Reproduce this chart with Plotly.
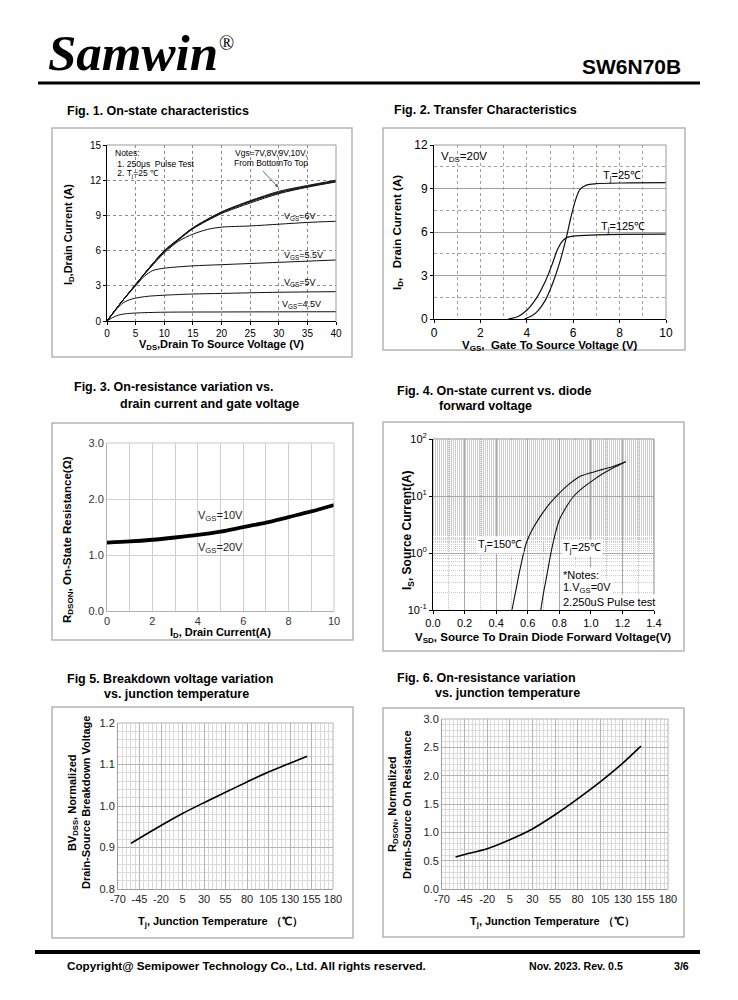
import plotly.graph_objects as go

W, H = 738, 1000
FONT = "Liberation Sans"

# ---------------- DATA ----------------
# Fig 1: On-state characteristics
f1_x_hi = [0, 1, 2.5, 5, 7.5, 10, 12.5, 15, 20, 25, 30, 35, 40]
f1_vgs10 = [0, 0.65, 1.6, 3.1, 4.6, 6.0, 7.0, 7.95, 9.3, 10.25, 11.05, 11.55, 12.0]
f1_vgs9 = [0, 0.65, 1.6, 3.1, 4.6, 5.98, 6.98, 7.92, 9.27, 10.2, 10.98, 11.5, 11.95]
f1_vgs8 = [0, 0.65, 1.6, 3.1, 4.6, 5.95, 6.95, 7.9, 9.22, 10.15, 10.92, 11.45, 11.9]
f1_vgs7 = [0, 0.65, 1.6, 3.1, 4.58, 5.9, 6.9, 7.85, 9.15, 10.05, 10.85, 11.4, 11.85]
f1_x6 = [0, 1, 2.5, 5, 7.5, 10, 12.5, 15, 17.5, 20, 25, 30, 35, 40]
f1_vgs6 = [0, 0.65, 1.6, 3.1, 4.5, 5.8, 6.8, 7.4, 7.8, 8.0, 8.1, 8.25, 8.4, 8.5]
f1_x55 = [0, 1, 2.5, 5, 6.5, 8, 10, 15, 20, 30, 40]
f1_vgs55 = [0, 0.65, 1.6, 3.0, 3.8, 4.3, 4.5, 4.7, 4.8, 5.0, 5.2]
f1_x5 = [0, 1, 2, 3, 4, 5, 7, 10, 15, 20, 30, 40]
f1_vgs5 = [0, 0.6, 1.2, 1.6, 1.82, 1.95, 2.1, 2.2, 2.3, 2.35, 2.45, 2.5]
f1_x45 = [0, 1, 2, 3, 5, 10, 20, 30, 40]
f1_vgs45 = [0, 0.3, 0.5, 0.6, 0.68, 0.75, 0.77, 0.78, 0.79]

# Fig 2: Transfer characteristics
f2_x25 = [3.9, 4.2, 4.5, 4.8, 5.1, 5.4, 5.7, 5.9, 6.1, 6.3, 6.6, 7, 8, 10]
f2_y25 = [0, 0.2, 0.6, 1.3, 2.4, 3.8, 5.6, 7.0, 8.2, 8.95, 9.25, 9.33, 9.38, 9.4]
f2_x125 = [3.2, 3.6, 4.0, 4.4, 4.8, 5.1, 5.3, 5.5, 5.7, 6.0, 7, 8, 10]
f2_y125 = [0, 0.15, 0.6, 1.4, 2.6, 3.8, 4.7, 5.3, 5.6, 5.72, 5.8, 5.84, 5.86]

# Fig 3: On-resistance vs drain current
f3_id = [0, 1, 2, 3, 4, 5, 6, 7, 8, 9, 10]
f3_r10 = [1.235, 1.255, 1.285, 1.325, 1.37, 1.43, 1.51, 1.59, 1.69, 1.79, 1.905]
f3_r20 = [1.21, 1.23, 1.26, 1.30, 1.345, 1.405, 1.485, 1.565, 1.665, 1.765, 1.88]

# Fig 4: Diode forward voltage
f4_v150 = [0.50, 0.53, 0.55, 0.59, 0.63, 0.68, 0.74, 0.79, 0.86, 0.93, 1.0, 1.07, 1.14, 1.22]
f4_i150 = [0.1, 0.26, 0.5, 1.47, 2.6, 4.4, 7.4, 10.5, 16, 22, 25.5, 29, 33, 40]
f4_v25 = [0.683, 0.70, 0.72, 0.75, 0.78, 0.80, 0.85, 0.89, 0.95, 1.015, 1.08, 1.14, 1.22]
f4_i25 = [0.1, 0.2, 0.39, 1.1, 2.5, 3.8, 6.8, 9.8, 14, 19, 25, 31, 40]

# Fig 5: BVdss vs Tj
f5_t = [-55, -20, 5, 30, 55, 80, 105, 130, 150]
f5_bv = [0.91, 0.953, 0.982, 1.008, 1.033, 1.058, 1.082, 1.103, 1.12]

# Fig 6: Rdson vs Tj
f6_t = [-55, -45, -20, 5, 30, 55, 80, 105, 130, 150]
f6_r = [0.565, 0.61, 0.71, 0.87, 1.06, 1.31, 1.59, 1.89, 2.22, 2.52]

tj_ticks = [-70, -45, -20, 5, 30, 55, 80, 105, 130, 155, 180]
tj_ticktext = ["-70", "-45", "-20", "5", "30", "55", "80", "105", "130", "155", "180"]

# ---------------- LAYOUT HELPERS ----------------
def fx(x): return x / W
def fy(y): return 1 - y / H

fig = go.Figure()
annots = []
shapes = []

def ann(text, x, y, size=11, bold=False, anchor="left", color="#000", angle=0, family=FONT):
    if bold:
        text = "<b>" + text + "</b>"
    annots.append(dict(text=text, x=fx(x), y=fy(y), xref="paper", yref="paper", xanchor=anchor, yanchor="middle",
                       showarrow=False, font=dict(size=size, color=color, family=family), textangle=angle))

def frame(x0, y0, x1, y1):
    shapes.append(dict(type="rect", xref="paper", yref="paper", x0=fx(x0), x1=fx(x1), y0=fy(y1), y1=fy(y0),
                       line=dict(color="#b5b5b5", width=1.5)))

def line(trace_x, trace_y, ax, width=1.2, color="#111"):
    fig.add_trace(go.Scatter(x=trace_x, y=trace_y, mode="lines",
                             line=dict(color=color, width=width, shape="spline", smoothing=0.8),
                             xaxis="x" + ax, yaxis="y" + ax, showlegend=False, hoverinfo="skip"))

# Fig 1
for xs, ys in [(f1_x45, f1_vgs45), (f1_x5, f1_vgs5), (f1_x55, f1_vgs55), (f1_x6, f1_vgs6),
               (f1_x_hi, f1_vgs7), (f1_x_hi, f1_vgs8), (f1_x_hi, f1_vgs9), (f1_x_hi, f1_vgs10)]:
    line(xs, ys, "", 1.0)
# Fig 2
line(f2_x25, f2_y25, "2", 1.2)
line(f2_x125, f2_y125, "2", 1.2)
# Fig 3
line(f3_id, f3_r10, "3", 2.4, "#000")
line(f3_id, f3_r20, "3", 2.4, "#000")
# Fig 4
line(f4_v150, f4_i150, "4", 1.1)
line(f4_v25, f4_i25, "4", 1.1)
# Fig 5
line(f5_t, f5_bv, "5", 1.6, "#000")
# Fig 6
line(f6_t, f6_r, "6", 1.6, "#000")

def ax_common(**kw):
    d = dict(automargin=False, zeroline=False, showline=True)
    d.update(kw)
    return d

layout = dict(
    width=W, height=H, margin=dict(l=0, r=0, t=0, b=0, pad=0, autoexpand=False),
    paper_bgcolor="white", plot_bgcolor="white", showlegend=False,
    # Fig 1
    xaxis=ax_common(domain=[fx(107), fx(336)], range=[0, 40], dtick=5, anchor="y", linecolor="#000",
                    ticks="outside", ticklen=3, tickcolor="#000", tickfont=dict(family=FONT, size=10, color="#000"),
                    showgrid=True, gridcolor="#8a8a8a", griddash="dot", gridwidth=1),
    yaxis=ax_common(domain=[fy(321), fy(145)], range=[0, 15], dtick=3, anchor="x", linecolor="#000",
                    ticks="outside", ticklen=3, tickcolor="#000", tickfont=dict(family=FONT, size=10, color="#000"),
                    showgrid=True, gridcolor="#8a8a8a", griddash="dot", gridwidth=1),
    # Fig 2
    xaxis2=ax_common(domain=[fx(434), fx(666)], range=[0, 10], dtick=2, anchor="y2", linecolor="#000",
                     ticks="outside", ticklen=3, tickcolor="#000", tickfont=dict(family=FONT, size=12, color="#000"),
                     showgrid=True, gridcolor="#a0a0a0", griddash="dot",
                     minor=dict(dtick=1, showgrid=True, gridcolor="#a0a0a0", griddash="dot")),
    yaxis2=ax_common(domain=[fy(319), fy(145)], range=[0, 12], dtick=3, anchor="x2", linecolor="#000",
                     ticks="outside", ticklen=3, tickcolor="#000", tickfont=dict(family=FONT, size=12, color="#000"),
                     showgrid=True, gridcolor="#a0a0a0",
                     minor=dict(dtick=1.5, showgrid=True, gridcolor="#a0a0a0", griddash="dot")),
    # Fig 3
    xaxis3=ax_common(domain=[fx(107), fx(334)], range=[0, 10], dtick=2, anchor="y3", linecolor="#b0b0b0",
                     ticks="", tickfont=dict(family=FONT, size=11, color="#333"),
                     showgrid=True, gridcolor="#cfcfcf", minor=dict(dtick=1, showgrid=True, gridcolor="#cfcfcf")),
    yaxis3=ax_common(domain=[fy(611), fy(443)], range=[0, 3], dtick=1, tickformat=".1f", anchor="x3",
                     linecolor="#b0b0b0", ticks="", tickfont=dict(family=FONT, size=11, color="#333"),
                     showgrid=True, gridcolor="#cfcfcf"),
    # Fig 4
    xaxis4=ax_common(domain=[fx(433), fx(654)], range=[0, 1.4], dtick=0.2, tickformat=".1f", anchor="y4",
                     linecolor="#000", ticks="outside", ticklen=3, tickcolor="#000",
                     tickfont=dict(family=FONT, size=11, color="#000"),
                     showgrid=True, gridcolor="#a8a8a8", gridwidth=1,
                     minor=dict(dtick=0.1, showgrid=True, gridcolor="#bdbdbd", griddash="1px,1px", gridwidth=1)),
    yaxis4=ax_common(domain=[fy(610), fy(439)], type="log", range=[-1, 2], anchor="x4", linecolor="#000",
                     ticks="outside", ticklen=3, tickcolor="#000", tickfont=dict(family=FONT, size=11, color="#000"),
                     tickvals=[0.1, 1, 10, 100],
                     ticktext=["10<sup>-1</sup>", "10<sup>0</sup>", "10<sup>1</sup>", "10<sup>2</sup>"],
                     showgrid=True, gridcolor="#a8a8a8",
                     minor=dict(showgrid=True, gridcolor="#cccccc", griddash="1px,1px", gridwidth=1)),
    # Fig 5
    xaxis5=ax_common(domain=[fx(118), fx(333)], range=[-70, 180], tickvals=tj_ticks, ticktext=tj_ticktext,
                     anchor="y5", linecolor="#a0a0a0", ticks="", tickfont=dict(family=FONT, size=11, color="#222"),
                     showgrid=True, gridcolor="#b4b4b4",
                     minor=dict(dtick=5, tick0=-70, showgrid=True, gridcolor="#dadada")),
    yaxis5=ax_common(domain=[fy(889), fy(723)], range=[0.8, 1.2], dtick=0.1, tickformat=".1f", anchor="x5",
                     linecolor="#a0a0a0", ticks="", tickfont=dict(family=FONT, size=11, color="#222"),
                     showgrid=True, gridcolor="#b4b4b4",
                     minor=dict(dtick=0.02, showgrid=True, gridcolor="#dadada")),
    # Fig 6
    xaxis6=ax_common(domain=[fx(442), fx(668)], range=[-70, 180], tickvals=tj_ticks, ticktext=tj_ticktext,
                     anchor="y6", linecolor="#a0a0a0", ticks="", tickfont=dict(family=FONT, size=11, color="#222"),
                     showgrid=True, gridcolor="#b4b4b4",
                     minor=dict(dtick=25 / 6, tick0=-70, showgrid=True, gridcolor="#dadada")),
    yaxis6=ax_common(domain=[fy(889), fy(719)], range=[0, 3], dtick=0.5, tickformat=".1f", anchor="x6",
                     linecolor="#a0a0a0", ticks="", tickfont=dict(family=FONT, size=11, color="#222"),
                     showgrid=True, gridcolor="#b4b4b4",
                     minor=dict(dtick=0.1, showgrid=True, gridcolor="#dadada")),
)

# plot-area top/right borders
for (x0, y0, x1, y1, c) in [(107, 145, 336, 321, "#9a9a9a"), (434, 145, 666, 319, "#9a9a9a"),
                            (107, 443, 334, 611, "#c8c8c8"), (433, 439, 654, 610, "#8a8a8a"),
                            (118, 723, 333, 889, "#b4b4b4"), (442, 719, 668, 889, "#b4b4b4")]:
    shapes.append(dict(type="line", xref="paper", yref="paper", x0=fx(x0), x1=fx(x1), y0=fy(y0), y1=fy(y0),
                       line=dict(color=c, width=1)))
    shapes.append(dict(type="line", xref="paper", yref="paper", x0=fx(x1), x1=fx(x1), y0=fy(y0), y1=fy(y1),
                       line=dict(color=c, width=1)))

# frames
frame(52, 128, 352, 357)
frame(383, 128, 685, 350)
frame(52, 423, 353, 640)
frame(383, 422, 684, 651)
frame(52, 707, 353, 938)
frame(383, 708, 684, 937)

# header / footer lines
shapes.append(dict(type="line", xref="paper", yref="paper", x0=fx(38), x1=fx(700), y0=fy(83), y1=fy(83),
                   line=dict(color="#000", width=3)))
shapes.append(dict(type="line", xref="paper", yref="paper", x0=fx(35), x1=fx(700), y0=fy(952), y1=fy(952),
                   line=dict(color="#000", width=4)))

# header texts
ann("<b><i>Samwin</i></b>", 46, 53, size=51, family="Liberation Serif")
ann("®", 217, 43, size=20, family="Liberation Serif")
ann("SW6N70B", 683, 67, size=21, bold=True, anchor="right")

# figure titles
ann("Fig. 1. On-state characteristics", 65, 111, 12.5, True)
ann("Fig. 2. Transfer Characteristics", 392, 110, 12.5, True)
ann("Fig. 3. On-resistance variation vs.", 72, 387, 12.5, True)
ann("drain current and gate voltage", 118, 404, 12.5, True)
ann("Fig. 4. On-state current vs. diode", 395, 391, 12.5, True)
ann("forward voltage", 437, 406, 12.5, True)
ann("Fig 5. Breakdown voltage variation", 65, 679, 12.5, True)
ann("vs. junction temperature", 102, 694, 12.5, True)
ann("Fig. 6. On-resistance variation", 395, 678, 12.5, True)
ann("vs. junction temperature", 433, 693, 12.5, True)

# footer
ann("Copyright@ Semipower Technology Co., Ltd. All rights reserved.", 65, 965, 11.7, True)
ann("Nov. 2023. Rev. 0.5", 527, 966, 10.6, True)
ann("3/6", 672, 966, 10.6, True)

# axis titles
ann("I<sub>D</sub>,Drain Current (A)", 69, 235, 11, True, "center", angle=-90)
ann("V<sub>DS</sub>,Drain To Source Voltage (V)", 221, 345, 11, True, "center")
ann("I<sub>D</sub>,   Drain Current (A)", 398, 233, 11.5, True, "center", angle=-90)
ann("V<sub>GS</sub>,  Gate To Source Voltage (V)", 550, 346, 11.5, True, "center")
ann("R<sub>DSON</sub>, On-State Resistance(Ω)", 68, 540, 11.5, True, "center", angle=-90)
ann("I<sub>D</sub>, Drain Current(A)", 220, 633, 11, True, "center")
ann("I<sub>S</sub>, Source Current(A)", 408, 530, 12, True, "center", angle=-90)
ann("V<sub>SD</sub>, Source To Drain Diode Forward Voltage(V)", 543, 638, 11.5, True, "center")
ann("BV<sub>DSS</sub>, Normalized", 73, 803, 11, True, "center", angle=-90)
ann("Drain-Source Breakdown Voltage", 86, 803, 11, True, "center", angle=-90)
ann("T<sub>j</sub>, Junction Temperature （℃）", 220, 922, 11, True, "center")
ann("R<sub>DSON</sub>, Normalized", 393, 804, 11, True, "center", angle=-90)
ann("Drain-Source On Resistance", 407, 804, 11, True, "center", angle=-90)
ann("T<sub>j</sub>, Junction Temperature （℃）", 552, 922, 11, True, "center")

# in-plot labels (data coordinates)
def dann(text, x, y, ax, size=9, anchor="left", color="#000", bg=None):
    d = dict(text=text, x=x, y=y, xref="x" + ax, yref="y" + ax, xanchor=anchor, yanchor="middle", showarrow=False,
             font=dict(size=size, family=FONT, color=color))
    if bg:
        d["bgcolor"] = bg
    annots.append(d)

dann("Notes:", 1.0, 14.3, "", 8.5)
dann(" 1. 250μs  Pulse Test", 1.0, 13.4, "", 8.5)
dann(" 2. T<sub>j</sub>=25 ℃", 1.0, 12.55, "", 8.5)
dann("Vgs=7V,8V,9V,10V,", 28.6, 14.3, "", 8.5, "center")
dann("From BottomTo Top", 28.6, 13.45, "", 8.5, "center")
annots.append(dict(x=29.9, y=11.4, ax=27.0, ay=12.9, xref="x", yref="y", axref="x", ayref="y", text="",
                   showarrow=True, arrowhead=2, arrowsize=0.8, arrowwidth=0.8, arrowcolor="#444"))
dann("V<sub>GS</sub>=6V", 30.6, 8.9, "", 9)
dann("V<sub>GS</sub>=5.5V", 30.6, 5.6, "", 9)
dann("V<sub>GS</sub>=5V", 30.6, 3.25, "", 9)
dann("V<sub>GS</sub>=4.5V", 30.3, 1.42, "", 9)

dann("V<sub>DS</sub>=20V", 0.2, 11.2, "2", 11.5)
dann("T<sub>j</sub>=25℃", 7.2, 9.86, "2", 11)
dann("T<sub>j</sub>=125℃", 7.1, 6.33, "2", 11)

dann("V<sub>GS</sub>=10V", 3.9, 1.69, "3", 11, color="#222")
dann("V<sub>GS</sub>=20V", 3.9, 1.12, "3", 11, color="#222")

for txt, xv, ylog in [("T<sub>j</sub>=150℃", 0.27, 0.142), ("T<sub>j</sub>=25℃", 0.81, 0.084),
                      ("*Notes:", 0.81, -0.385), ("1.V<sub>GS</sub>=0V", 0.81, -0.62),
                      ("2.250uS Pulse test", 0.81, -0.854)]:
    annots.append(dict(text=txt, x=xv, y=ylog, xref="x4", yref="y4", xanchor="left", yanchor="middle",
                       showarrow=False, font=dict(size=11, family=FONT, color="#000"), bgcolor="white"))

layout["annotations"] = annots
layout["shapes"] = shapes
fig.update_layout(**layout)
fig.write_html("out.html", config={"displayModeBar": False},
               post_script="document.body.style.margin='0';document.body.style.padding='0';")
